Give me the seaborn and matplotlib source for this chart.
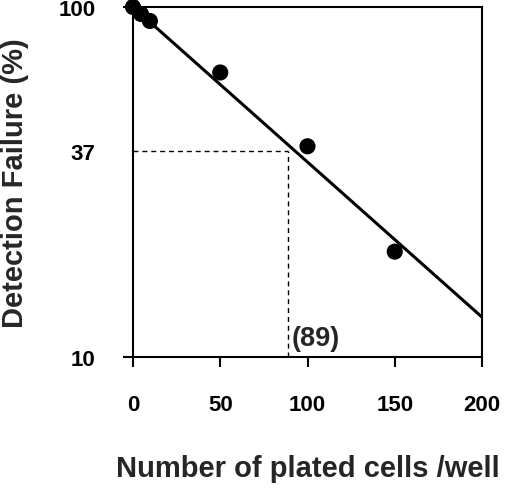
import matplotlib
matplotlib.use("Agg")
import matplotlib.pyplot as plt
import seaborn as sns
import pandas as pd
from matplotlib.ticker import FixedLocator, NullLocator

# ---- data ----
cells = [0, 4.6, 9.7, 50, 100, 150]
failure = [100, 95.5, 91.2, 65, 40, 20]
fit_x = [0, 200]
fit_y = [100, 13.0]
guide_x = 89
guide_y = 38.8          # position of the "37" guide line as drawn
y_tick_vals = [10, guide_y, 100]
y_tick_labels = ["10", "37", "100"]
x_tick_vals = [0, 50, 100, 150, 200]
x_label = "Number of plated cells /well"
y_label = "Detection Failure (%)"
guide_label = "(89)"

sns.set_style("ticks")
plt.rcParams['font.family'] = ['Liberation Sans', 'DejaVu Sans']

fig = plt.figure(figsize=(5.20, 4.89), dpi=100)
ax = fig.add_axes([133/520, 1-358/489, (482-133)/520, (358-8)/489])

pts = pd.DataFrame({"cells": cells, "failure": failure})
fit = pd.DataFrame({"x": fit_x, "y": fit_y})

sns.lineplot(data=fit, x="x", y="y", ax=ax, color="black", linewidth=2.2)
sns.scatterplot(data=pts, x="cells", y="failure", ax=ax, color="black",
                s=135, edgecolor="none", zorder=5, clip_on=False)

ax.plot([0, guide_x], [guide_y, guide_y], color="black", lw=1.0,
        dashes=(3.6, 2.8))
ax.plot([guide_x, guide_x], [10, guide_y], color="black", lw=1.0,
        dashes=(3.6, 2.8))
ax.text(guide_x + 2, 10.85, guide_label, fontsize=19.5, fontweight="bold",
        ha="left", va="baseline")

ax.set_yscale("log")
ax.set_xlim(0, 200)
ax.set_ylim(10, 100)
ax.yaxis.set_major_locator(FixedLocator(y_tick_vals))
ax.yaxis.set_minor_locator(NullLocator())
ax.set_yticklabels(y_tick_labels)
ax.set_xticks(x_tick_vals)
ax.set_xticklabels([str(v) for v in x_tick_vals])

for s in ax.spines.values():
    s.set_linewidth(1.5)
    s.set_color("black")

ax.tick_params(axis="both", direction="out", length=7, width=1.5,
               labelsize=16, colors="black")
ax.tick_params(axis="x", pad=20)
ax.tick_params(axis="y", pad=20)
for lab in ax.get_xticklabels() + ax.get_yticklabels():
    lab.set_fontweight("bold")
for t in ax.yaxis.get_major_ticks():
    if t.get_loc() == guide_y:
        t.tick1line.set_visible(False)

ax.set_xlabel(x_label, fontsize=21, fontweight="bold", labelpad=28)
ax.set_ylabel(y_label, fontsize=21, fontweight="bold", labelpad=21)

fig.savefig("out.png", dpi=100)
